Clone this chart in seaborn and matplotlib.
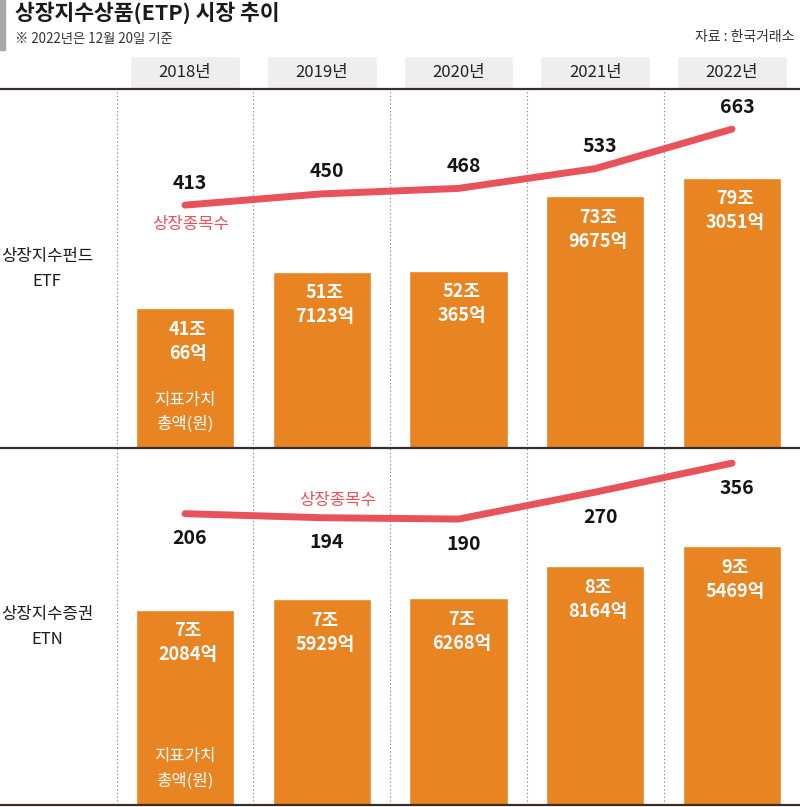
import matplotlib
matplotlib.use('Agg')
import matplotlib.pyplot as plt
import seaborn as sns
import pandas as pd
import numpy as np
from matplotlib.lines import Line2D
from matplotlib.patches import Rectangle

# ---------------- data ----------------
years = ['2018년', '2019년', '2020년', '2021년', '2022년']
etf_value = [410066, 517123, 520365, 739675, 793051]   # 억원
etf_count = [413, 450, 468, 533, 663]
etn_value = [72084, 75929, 76268, 88164, 95469]        # 억원
etn_count = [206, 194, 190, 270, 356]

title = '상장지수상품(ETP) 시장 추이'
subtitle = '※ 2022년은 12월 20일 기준'
source = '자료 : 한국거래소'
count_label = '상장종목수'
value_label = ['지표가치', '총액(원)']
row_labels = [('상장지수펀드', 'ETF'), ('상장지수증권', 'ETN')]

# ---------------- style ----------------
sns.set_theme(style='white')
plt.rcParams['font.family'] = ['Noto Sans CJK KR', 'DejaVu Sans']

W, H = 800, 807
fig = plt.figure(figsize=(W / 100, H / 100), dpi=100)
fig.patch.set_facecolor('white')


def fy(px):
    return 1 - px / H


STEP = 136.75
XL = (-185 / STEP, (W - 185) / STEP)
ORANGE = '#E98423'
RED = '#E8525A'
DARK = '#3a2c27'
GRID = '#8a8a8a'


def panel(top, bottom, values, counts, vmax, clim, label_dy, cl_xy, cl_off):
    ax = fig.add_axes([0, fy(bottom), 1, (bottom - top) / H])
    df = pd.DataFrame({'year': years, 'value': values, 'count': counts})
    ax.vlines(np.arange(len(years)) - 0.5, 0, vmax, colors=GRID,
              linestyles=(0, (1.2, 2.2)), lw=0.8, zorder=0)
    sns.barplot(data=df, x='year', y='value', color=ORANGE, saturation=1,
                width=0.717, ax=ax, zorder=2)
    ax.set_xlim(XL)
    ax.set_ylim(0, vmax)
    ax.set_axis_off()
    for i, v in enumerate(values):
        ax.annotate(f'{v // 10000}조', (i, v), xytext=(3, -21),
                    textcoords='offset pixels', ha='center', va='center',
                    color='white', fontsize=13, fontweight='bold', zorder=5)
        ax.annotate(f'{v % 10000}억', (i, v), xytext=(3, -45),
                    textcoords='offset pixels', ha='center', va='center',
                    color='white', fontsize=13, fontweight='bold', zorder=5)
    for k, t in enumerate(value_label):
        ax.annotate(t, (0, 0), xytext=(0, 48 - 24 * k),
                    textcoords='offset pixels', ha='center', va='center',
                    color='white', fontsize=12, zorder=5)

    ax2 = ax.twinx()
    sns.lineplot(x=np.arange(len(years)), y=counts, ax=ax2, color=RED,
                 lw=5, solid_capstyle='round', zorder=4)
    ax2.set_xlim(XL)
    ax2.set_ylim(*clim)
    ax2.set_axis_off()
    for i, c in enumerate(counts):
        ax2.annotate(f'{c}', (i, c), xytext=(5, label_dy),
                     textcoords='offset pixels', ha='center', va='center',
                     color='#141414', fontsize=14, fontweight='bold')
    ci = cl_xy
    ax2.annotate(count_label, (ci, counts[ci]), xytext=cl_off,
                 textcoords='offset pixels', ha='center', va='center',
                 color=RED, fontsize=12)
    return ax, ax2


# ETF panel (y 89 -> 448 px)
panel(89, 448, etf_value, etf_count, 1054000, (-386, 795), 22, 0, (6, -19))
# ETN panel (y 448 -> 805 px)
panel(448, 805, etn_value, etn_count, 131700, (-659, 401), -25, 1, (16, 17))

# header boxes
axh = fig.add_axes([0, fy(88), 1, 32 / H])
axh.bar(np.arange(len(years)), [1] * len(years), width=0.804, color='#eeeeee')
axh.set_xlim(XL)
axh.set_ylim(0, 1)
axh.set_axis_off()
for i, y in enumerate(years):
    axh.text(i, 0.5, y, ha='center', va='center', fontsize=12, color='#222222')

# horizontal rules
for ypx in (89, 448, 805):
    fig.add_artist(Line2D([0, 1], [fy(ypx)] * 2, color=DARK, lw=1.6,
                          transform=fig.transFigure))

# title block
fig.add_artist(Rectangle((0, fy(50)), 5 / W, 50 / H, color='#a8a8a8',
                         transform=fig.transFigure))
fig.text(15 / W, fy(13), title, ha='left', va='center', fontsize=15.5,
         fontweight='bold', color='#1a1a1a')
fig.text(15 / W, fy(39), subtitle, ha='left', va='center', fontsize=9.6,
         color='#333333')
fig.text(794 / W, fy(37), source, ha='right', va='center', fontsize=10,
         color='#333333')

# row labels
row_y = [(257, 282), (615, 640)]
for (l1, l2), (y1, y2) in zip(row_labels, row_y):
    fig.text(47 / W, fy(y1), l1, ha='center', va='center', fontsize=12,
             color='#1a1a1a')
    fig.text(47 / W, fy(y2), l2, ha='center', va='center', fontsize=12,
             color='#1a1a1a')

fig.savefig('out.png', dpi=100, facecolor='white')
